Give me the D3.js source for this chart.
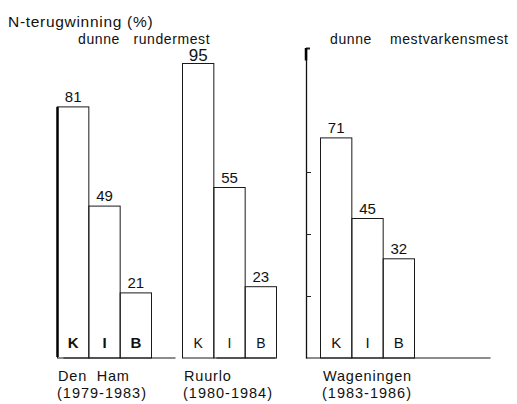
<!DOCTYPE html>
<html>
<head>
<meta charset="utf-8">
<script src="https://cdn.jsdelivr.net/npm/d3@7"></script>
<style>
  body { margin: 0; background: #fff; }
  svg { display: block; font-family: "Liberation Sans", Arial, sans-serif; }
  text { fill: #111; white-space: pre; }
</style>
</head>
<body>
<svg width="517" height="404"></svg>
<script>
// data
const groups = ["Den Ham", "Ruurlo", "Wageningen"];
const periods = ["(1979-1983)", "(1980-1984)", "(1983-1986)"];
const methods = ["K", "I", "B"];
const denHam = [81, 49, 21];
const ruurlo = [95, 55, 23];
const wageningen = [71, 45, 32];
const axisTicks = [20, 40, 60, 100];

const values = [denHam, ruurlo, wageningen];
const bars = [];
groups.forEach((g, i) => {
    methods.forEach((m, j) => bars.push({ group: g, method: m, value: values[i][j] }));
});

const svg = d3.select("svg");

// scales
const y = d3.scaleLinear().domain([0, 100]).range([358, 48]);
const groupX = d3.scaleOrdinal().domain(groups).range([57.5, 182.5, 320.5]);
const x = d3.scaleBand().domain(methods).range([0, 94]);

// baseline spans (relative to group start)
const baseSpan = { "Den Ham": [6, 118], "Ruurlo": [34, 93], "Wageningen": [-14.5, 170] };

// title texts
svg.append("text")
    .attr("x", 8).attr("y", 27)
    .attr("font-size", 15.5)
    .attr("letter-spacing", 0.7)
    .text("N-terugwinning (%)");

svg.append("text")
    .attr("x", 78).attr("y", 44)
    .attr("font-size", 14)
    .attr("letter-spacing", 0.6)
    .text("dunne   rundermest");

svg.append("text")
    .attr("x", 330).attr("y", 44)
    .attr("font-size", 14)
    .attr("letter-spacing", 0.6)
    .text("dunne    mestvarkensmest");

// bars
svg.selectAll("rect.bar")
    .data(bars)
    .enter()
    .append("rect")
    .attr("class", "bar")
    .attr("x", d => groupX(d.group) + x(d.method))
    .attr("y", d => y(d.value))
    .attr("width", x.bandwidth())
    .attr("height", d => y(0) - y(d.value))
    .attr("fill", "none")
    .attr("stroke", "#1a1a1a")
    .attr("stroke-width", 1);

// baselines
groups.forEach(g => {
    svg.append("line")
        .attr("x1", groupX(g) + baseSpan[g][0])
        .attr("x2", groupX(g) + baseSpan[g][1])
        .attr("y1", y(0)).attr("y2", y(0))
        .attr("stroke", "#1a1a1a")
        .attr("stroke-width", 1.2);
});

// thick left edge at Den Ham
svg.append("line")
    .attr("x1", groupX("Den Ham")).attr("x2", groupX("Den Ham"))
    .attr("y1", y(denHam[0])).attr("y2", y(0) - 1)
    .attr("stroke", "#000")
    .attr("stroke-width", 2.5);

// value axis for Wageningen
const axis = svg.append("g")
    .attr("transform", `translate(306,0)`)
    .call(d3.axisRight(y).tickValues(axisTicks).tickSize(5).tickSizeOuter(0).tickFormat(""));
axis.select(".domain").attr("stroke", "#111").attr("stroke-width", 1.3);
axis.selectAll(".tick line").attr("stroke", "#222").attr("stroke-width", 1);
axis.selectAll(".tick").filter(d => d === 100).select("line")
    .attr("stroke-width", 2).attr("x2", 4);
svg.append("line")
    .attr("x1", 306).attr("x2", 306)
    .attr("y1", y(100)).attr("y2", y(96))
    .attr("stroke", "#000").attr("stroke-width", 2.5);

// value labels
svg.selectAll("text.val")
    .data(bars)
    .enter()
    .append("text")
    .attr("class", "val")
    .attr("x", d => groupX(d.group) + x(d.method) + x.bandwidth() / 2)
    .attr("y", d => y(d.value) - (d.value === 95 ? 3 : 5))
    .attr("text-anchor", "middle")
    .attr("font-size", d => d.value === 95 ? 17 : 15)
    .text(d => d.value);

// method letters
svg.selectAll("text.method")
    .data(bars)
    .enter()
    .append("text")
    .attr("class", "method")
    .attr("x", d => groupX(d.group) + x(d.method) + x.bandwidth() / 2)
    .attr("y", 348)
    .attr("text-anchor", "middle")
    .attr("font-size", d => d.group === "Ruurlo" ? 14 : 15)
    .attr("font-weight", d => d.group === "Den Ham" ? "bold" : "normal")
    .text(d => d.method);

// group labels
const labelX = { "Den Ham": 58, "Ruurlo": 184, "Wageningen": 323 };
groups.forEach((g, i) => {
    svg.append("text")
        .attr("x", labelX[g]).attr("y", 381)
        .attr("font-size", 14.5)
        .attr("letter-spacing", 0.8)
        .text(g === "Den Ham" ? "Den  Ham" : g);
    svg.append("text")
        .attr("x", labelX[g] - 1).attr("y", 398)
        .attr("font-size", 14.5)
        .attr("letter-spacing", 1)
        .text(periods[i]);
});
</script>
</body>
</html>
